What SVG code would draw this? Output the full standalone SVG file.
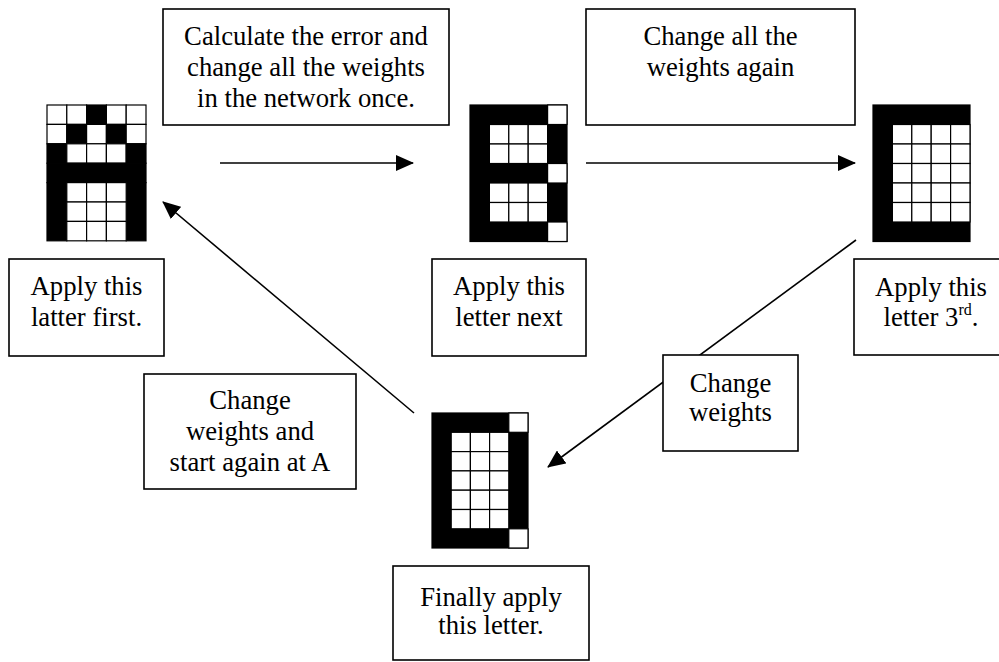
<svg xmlns="http://www.w3.org/2000/svg" width="999" height="662" viewBox="0 0 999 662">
<style>
.box{fill:#fff;stroke:#000;stroke-width:1.6}
.t{font-family:"Liberation Serif","Times New Roman",serif;font-size:26.7px;fill:#000;text-anchor:middle}
.w{fill:#fff;stroke:#000;stroke-width:1.2}
.k{fill:#000;stroke:#000;stroke-width:1.2}
.c{stroke:#000;stroke-width:1.6;fill:none;marker-end:url(#ah)}
</style>
<defs>
<marker id="ah" viewBox="0 0 18 16" refX="17" refY="8" markerWidth="18" markerHeight="16" markerUnits="userSpaceOnUse" orient="auto">
<path d="M0,0 L18,8 L0,16 Z" fill="#000"/>
</marker>
</defs>
<rect width="999" height="662" fill="#fff"/>

<g id="letterA" transform="translate(47,105) scale(1.0,0.995)">
<rect class="w" x="0" y="0" width="19.8" height="19.5"/><rect class="w" x="19.8" y="0" width="19.8" height="19.5"/><rect class="k" x="39.6" y="0" width="19.8" height="19.5"/><rect class="w" x="59.4" y="0" width="19.8" height="19.5"/><rect class="w" x="79.2" y="0" width="19.8" height="19.5"/>
<rect class="w" x="0" y="19.5" width="19.8" height="19.5"/><rect class="k" x="19.8" y="19.5" width="19.8" height="19.5"/><rect class="w" x="39.6" y="19.5" width="19.8" height="19.5"/><rect class="k" x="59.4" y="19.5" width="19.8" height="19.5"/><rect class="w" x="79.2" y="19.5" width="19.8" height="19.5"/>
<rect class="k" x="0" y="39" width="19.8" height="19.5"/><rect class="w" x="19.8" y="39" width="19.8" height="19.5"/><rect class="w" x="39.6" y="39" width="19.8" height="19.5"/><rect class="w" x="59.4" y="39" width="19.8" height="19.5"/><rect class="k" x="79.2" y="39" width="19.8" height="19.5"/>
<rect class="k" x="0" y="58.5" width="99" height="19.5"/>
<rect class="k" x="0" y="78" width="19.8" height="58.5"/><rect class="k" x="79.2" y="78" width="19.8" height="58.5"/>
<rect class="w" x="19.8" y="78" width="19.8" height="19.5"/><rect class="w" x="39.6" y="78" width="19.8" height="19.5"/><rect class="w" x="59.4" y="78" width="19.8" height="19.5"/>
<rect class="w" x="19.8" y="97.5" width="19.8" height="19.5"/><rect class="w" x="39.6" y="97.5" width="19.8" height="19.5"/><rect class="w" x="59.4" y="97.5" width="19.8" height="19.5"/>
<rect class="w" x="19.8" y="117" width="19.8" height="19.5"/><rect class="w" x="39.6" y="117" width="19.8" height="19.5"/><rect class="w" x="59.4" y="117" width="19.8" height="19.5"/>
</g>

<g id="letterB" transform="translate(470,105)">
<rect class="k" x="0" y="0" width="97" height="136.5"/>
<rect class="w" x="77.6" y="0" width="19.4" height="19.5"/>
<rect class="w" x="19.4" y="19.5" width="19.4" height="19.5"/><rect class="w" x="38.8" y="19.5" width="19.4" height="19.5"/><rect class="w" x="58.2" y="19.5" width="19.4" height="19.5"/>
<rect class="w" x="19.4" y="39" width="19.4" height="19.5"/><rect class="w" x="38.8" y="39" width="19.4" height="19.5"/><rect class="w" x="58.2" y="39" width="19.4" height="19.5"/>
<rect class="w" x="77.6" y="58.5" width="19.4" height="19.5"/>
<rect class="w" x="19.4" y="78" width="19.4" height="19.5"/><rect class="w" x="38.8" y="78" width="19.4" height="19.5"/><rect class="w" x="58.2" y="78" width="19.4" height="19.5"/>
<rect class="w" x="19.4" y="97.5" width="19.4" height="19.5"/><rect class="w" x="38.8" y="97.5" width="19.4" height="19.5"/><rect class="w" x="58.2" y="97.5" width="19.4" height="19.5"/>
<rect class="w" x="77.6" y="117" width="19.4" height="19.5"/>
</g>

<g id="letterC" transform="translate(873,105)">
<rect class="k" x="0" y="0" width="97" height="136.5"/>
<rect class="w" x="19.4" y="19.5" width="19.4" height="19.5"/><rect class="w" x="38.8" y="19.5" width="19.4" height="19.5"/><rect class="w" x="58.2" y="19.5" width="19.4" height="19.5"/><rect class="w" x="77.6" y="19.5" width="19.4" height="19.5"/>
<rect class="w" x="19.4" y="39" width="19.4" height="19.5"/><rect class="w" x="38.8" y="39" width="19.4" height="19.5"/><rect class="w" x="58.2" y="39" width="19.4" height="19.5"/><rect class="w" x="77.6" y="39" width="19.4" height="19.5"/>
<rect class="w" x="19.4" y="58.5" width="19.4" height="19.5"/><rect class="w" x="38.8" y="58.5" width="19.4" height="19.5"/><rect class="w" x="58.2" y="58.5" width="19.4" height="19.5"/><rect class="w" x="77.6" y="58.5" width="19.4" height="19.5"/>
<rect class="w" x="19.4" y="78" width="19.4" height="19.5"/><rect class="w" x="38.8" y="78" width="19.4" height="19.5"/><rect class="w" x="58.2" y="78" width="19.4" height="19.5"/><rect class="w" x="77.6" y="78" width="19.4" height="19.5"/>
<rect class="w" x="19.4" y="97.5" width="19.4" height="19.5"/><rect class="w" x="38.8" y="97.5" width="19.4" height="19.5"/><rect class="w" x="58.2" y="97.5" width="19.4" height="19.5"/><rect class="w" x="77.6" y="97.5" width="19.4" height="19.5"/>
</g>

<g id="letterD" transform="translate(432,413)">
<rect class="k" x="0" y="0" width="96" height="135"/>
<rect class="w" x="76.8" y="0" width="19.2" height="19.3"/>
<rect class="w" x="19.2" y="19.3" width="19.2" height="19.3"/><rect class="w" x="38.4" y="19.3" width="19.2" height="19.3"/><rect class="w" x="57.6" y="19.3" width="19.2" height="19.3"/>
<rect class="w" x="19.2" y="38.6" width="19.2" height="19.3"/><rect class="w" x="38.4" y="38.6" width="19.2" height="19.3"/><rect class="w" x="57.6" y="38.6" width="19.2" height="19.3"/>
<rect class="w" x="19.2" y="57.9" width="19.2" height="19.3"/><rect class="w" x="38.4" y="57.9" width="19.2" height="19.3"/><rect class="w" x="57.6" y="57.9" width="19.2" height="19.3"/>
<rect class="w" x="19.2" y="77.2" width="19.2" height="19.3"/><rect class="w" x="38.4" y="77.2" width="19.2" height="19.3"/><rect class="w" x="57.6" y="77.2" width="19.2" height="19.3"/>
<rect class="w" x="19.2" y="96.5" width="19.2" height="19.3"/><rect class="w" x="38.4" y="96.5" width="19.2" height="19.3"/><rect class="w" x="57.6" y="96.5" width="19.2" height="19.3"/>
<rect class="w" x="76.8" y="115.8" width="19.2" height="19.2"/>
</g>

<g id="connectors">
<line class="c" x1="220" y1="163" x2="413" y2="163"/>
<line class="c" x1="586" y1="163" x2="855" y2="163"/>
<line class="c" x1="856" y1="240" x2="548" y2="467"/>
<line class="c" x1="414" y1="413" x2="163" y2="202"/>
</g>

<g id="box-calc">
<rect class="box" x="163" y="9" width="286" height="116"/>
<text class="t" x="306" y="45">Calculate the error and</text>
<text class="t" x="306" y="76">change all the weights</text>
<text class="t" x="306" y="107">in the network once.</text>
</g>

<g id="box-again">
<rect class="box" x="586" y="9" width="269" height="116"/>
<text class="t" x="720.5" y="45">Change all the</text>
<text class="t" x="720.5" y="76">weights again</text>
</g>

<g id="box-first">
<rect class="box" x="9" y="259" width="155" height="97"/>
<text class="t" x="86.5" y="295">Apply this</text>
<text class="t" x="86.5" y="326">latter first.</text>
</g>

<g id="box-next">
<rect class="box" x="432" y="259" width="154" height="97"/>
<text class="t" x="509" y="295">Apply this</text>
<text class="t" x="509" y="326">letter next</text>
</g>

<g id="box-third">
<rect class="box" x="854" y="259" width="155" height="96"/>
<text class="t" x="931" y="296">Apply this</text>
<text class="t" x="931" y="326">letter 3<tspan font-size="16" dy="-11">rd</tspan><tspan dy="11">.</tspan></text>
</g>

<g id="box-change">
<rect class="box" x="663" y="355" width="135" height="96"/>
<text class="t" x="730.5" y="392">Change</text>
<text class="t" x="730.5" y="421">weights</text>
</g>

<g id="box-restart">
<rect class="box" x="144" y="374" width="212" height="115"/>
<text class="t" x="250" y="409">Change</text>
<text class="t" x="250" y="440">weights and</text>
<text class="t" x="250" y="471">start again at A</text>
</g>

<g id="box-final">
<rect class="box" x="393" y="566" width="196" height="94"/>
<text class="t" x="491" y="606">Finally apply</text>
<text class="t" x="491" y="634">this letter.</text>
</g>
</svg>
